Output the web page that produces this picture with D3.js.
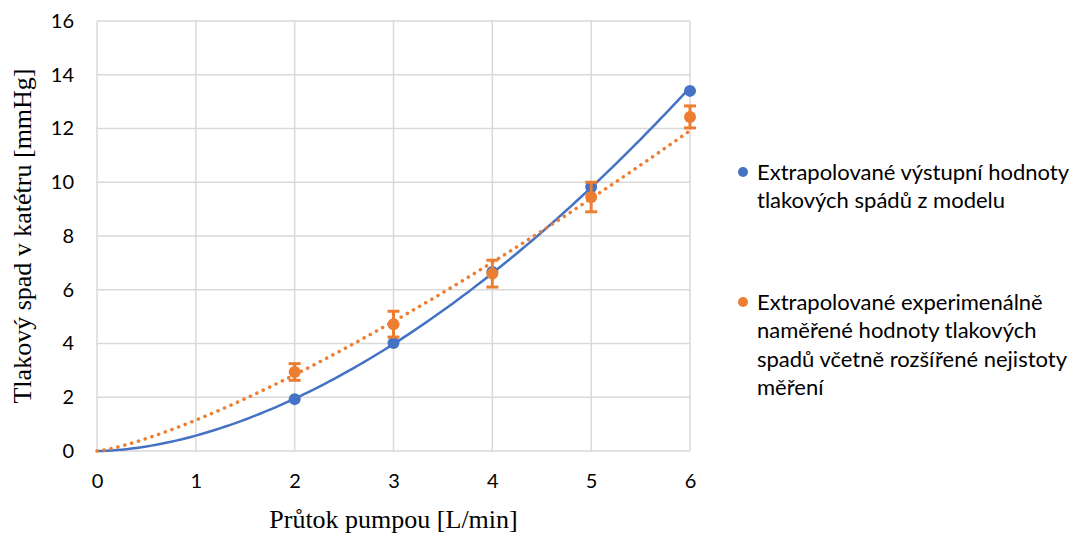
<!DOCTYPE html>
<html>
<head>
<meta charset="utf-8">
<script src="https://cdn.jsdelivr.net/npm/d3@7"></script>
<style>
  body { margin: 0; background: #fff; }
  svg { display: block; }
  .tick text { font-family: Lato, "Open Sans", sans-serif; }
</style>
</head>
<body>
<div id="chart"></div>
<script>
const flow = [2, 3, 4, 5, 6];
const modelDrop = [1.93, 4.02, 6.66, 9.82, 13.4];
const measuredDrop = [2.94, 4.72, 6.6, 9.45, 12.43];
const measuredErr = [0.31, 0.48, 0.5, 0.55, 0.41];
const xTicks = [0, 1, 2, 3, 4, 5, 6];
const yTicks = [0, 2, 4, 6, 8, 10, 12, 14, 16];
const legendItems = [
  { color: '#4472C4', lines: ['Extrapolované výstupní hodnoty', 'tlakových spádů z modelu'] },
  { color: '#ED7D31', lines: ['Extrapolované experimenálně', 'naměřené hodnoty tlakových', 'spadů včetně rozšířené nejistoty', 'měření'] }
];

const width = 1076;
const height = 536;
const margin = { top: 21, right: 386, bottom: 85, left: 97 };

const svg = d3.select('#chart').append('svg')
  .attr('width', width)
  .attr('height', height);

const x = d3.scaleLinear().domain([0, 6]).range([margin.left, width - margin.right]);
const y = d3.scaleLinear().domain([0, 16]).range([height - margin.bottom, margin.top]);

// grid
svg.append('g').selectAll('line').data(yTicks).join('line')
  .attr('x1', x(0)).attr('x2', x(6))
  .attr('y1', d => y(d)).attr('y2', d => y(d))
  .attr('stroke', '#d9d9d9').attr('stroke-width', 1.5);
svg.append('g').selectAll('line').data(xTicks).join('line')
  .attr('y1', y(0)).attr('y2', y(16))
  .attr('x1', d => x(d)).attr('x2', d => x(d))
  .attr('stroke', '#d9d9d9').attr('stroke-width', 1.5);

// axes (labels only)
const xAxis = svg.append('g')
  .attr('transform', `translate(0,${y(0)})`)
  .call(d3.axisBottom(x).tickValues(xTicks).tickFormat(d3.format('d')).tickSize(0).tickPadding(23));
const yAxis = svg.append('g')
  .attr('transform', `translate(${x(0)},0)`)
  .call(d3.axisLeft(y).tickValues(yTicks).tickFormat(d3.format('d')).tickSize(0).tickPadding(23));
[xAxis, yAxis].forEach(a => {
  a.select('.domain').remove();
  a.selectAll('text').attr('font-size', 20).attr('fill', '#000');
});

// power trendline fit (like Excel), from the data points
function powerFit(xs, ys) {
  const lx = xs.map(Math.log);
  const ly = ys.map(Math.log);
  const mx = d3.mean(lx);
  const my = d3.mean(ly);
  const b = d3.sum(lx, (v, i) => (v - mx) * (ly[i] - my)) / d3.sum(lx, v => (v - mx) ** 2);
  const a = Math.exp(my - b * mx);
  return v => a * Math.pow(v, b);
}
const trendX = d3.range(0, 6.001, 0.05);
const line = d3.line().x(d => x(d[0])).y(d => y(d[1]));

const fitModel = powerFit(flow, modelDrop);
const fitMeasured = powerFit(flow, measuredDrop);

svg.append('path')
  .attr('d', line(trendX.map(v => [v, fitModel(v)])))
  .attr('fill', 'none')
  .attr('stroke', '#4472C4')
  .attr('stroke-width', 2.5);

svg.append('path')
  .attr('d', line(trendX.map(v => [v, fitMeasured(v)])))
  .attr('fill', 'none')
  .attr('stroke', '#ED7D31')
  .attr('stroke-width', 3.5)
  .attr('stroke-linecap', 'round')
  .attr('stroke-dasharray', '0.1 7');

// model points
svg.append('g').selectAll('circle').data(flow).join('circle')
  .attr('cx', d => x(d))
  .attr('cy', (d, i) => y(modelDrop[i]))
  .attr('r', 6)
  .attr('fill', '#4472C4');

// measured points with error bars
const err = svg.append('g').attr('stroke', '#ED7D31').attr('stroke-width', 3);
flow.forEach((d, i) => {
  const lo = y(measuredDrop[i] - measuredErr[i]);
  const hi = y(measuredDrop[i] + measuredErr[i]);
  err.append('line').attr('x1', x(d)).attr('x2', x(d)).attr('y1', lo).attr('y2', hi);
  err.append('line').attr('x1', x(d) - 6).attr('x2', x(d) + 6).attr('y1', lo).attr('y2', lo);
  err.append('line').attr('x1', x(d) - 6).attr('x2', x(d) + 6).attr('y1', hi).attr('y2', hi);
});
svg.append('g').selectAll('circle').data(flow).join('circle')
  .attr('cx', d => x(d))
  .attr('cy', (d, i) => y(measuredDrop[i]))
  .attr('r', 6)
  .attr('fill', '#ED7D31');

// axis titles
svg.append('text')
  .attr('x', (x(0) + x(6)) / 2)
  .attr('y', 528)
  .attr('text-anchor', 'middle')
  .attr('font-family', '"Liberation Serif", "Times New Roman", serif')
  .attr('font-size', 26)
  .text('Průtok pumpou [L/min]');

svg.append('text')
  .attr('transform', `translate(31,${(y(0) + y(16)) / 2}) rotate(-90)`)
  .attr('text-anchor', 'middle')
  .attr('font-family', '"Liberation Serif", "Times New Roman", serif')
  .attr('font-size', 26)
  .text('Tlakový spad v katétru [mmHg]');

// legend
const legendTop = [172, 302];
const lineH = 28.5;
legendItems.forEach((item, k) => {
  const g = svg.append('g');
  g.append('circle')
    .attr('cx', 743).attr('cy', legendTop[k])
    .attr('r', 5).attr('fill', item.color);
  g.append('g').selectAll('text').data(item.lines).join('text')
    .attr('x', 757)
    .attr('y', (d, i) => legendTop[k] + i * lineH)
    .attr('dy', '0.35em')
    .attr('font-family', 'Lato, "Open Sans", sans-serif')
    .attr('font-size', 22)
    .text(d => d);
});
</script>
</body>
</html>
